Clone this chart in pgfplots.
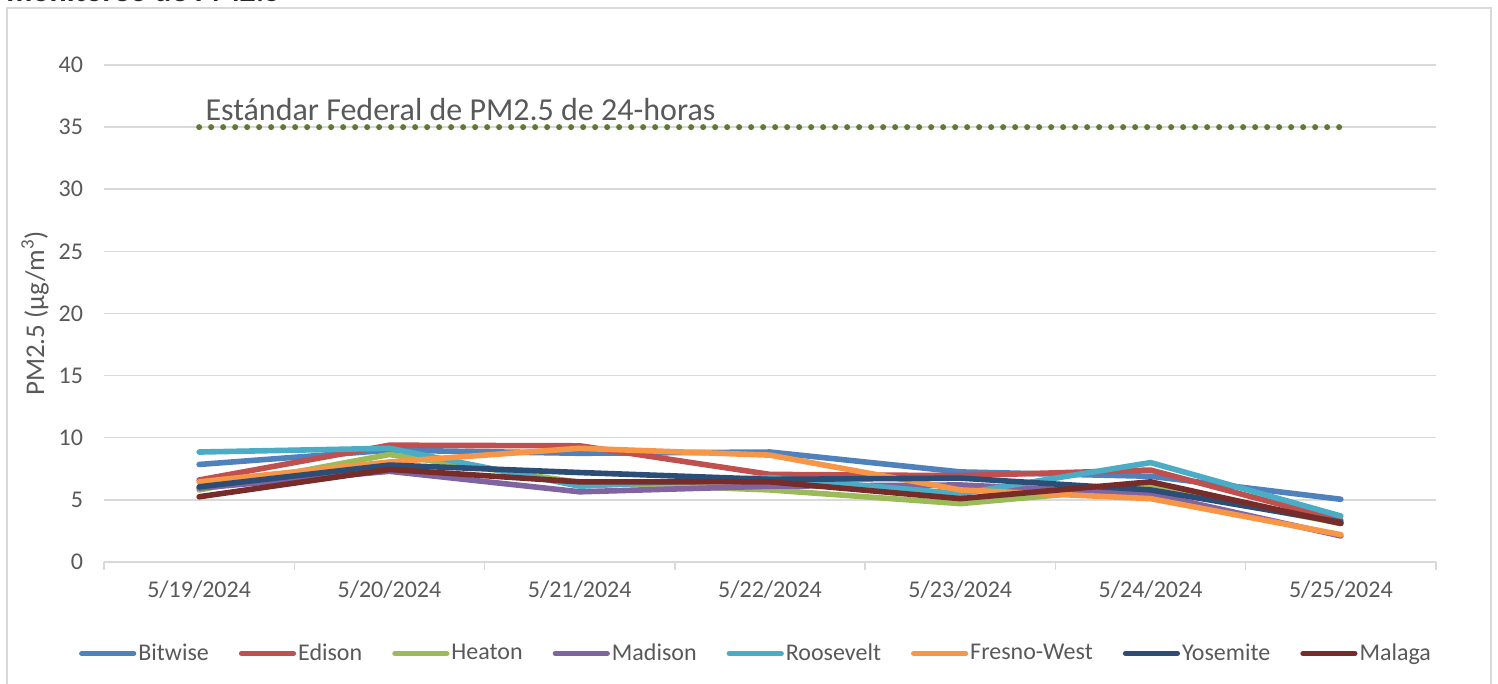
\documentclass[border=0pt]{standalone}
\usepackage{pgfplots}
\pgfplotsset{compat=1.18}
\usepackage{fontspec}
\setmainfont{Carlito}
\definecolor{cBit}{HTML}{4F81BD}
\definecolor{cEdi}{HTML}{C0504D}
\definecolor{cHea}{HTML}{9BBB59}
\definecolor{cMad}{HTML}{8064A2}
\definecolor{cRoo}{HTML}{4BACC6}
\definecolor{cFre}{HTML}{F79646}
\definecolor{cYos}{HTML}{2C4D75}
\definecolor{cMal}{HTML}{772C2A}
\definecolor{cStd}{HTML}{5E7A2E}
\definecolor{cGrid}{HTML}{D9D9D9}
\definecolor{cTxt}{HTML}{595959}
\begin{document}
\begin{tikzpicture}
\useasboundingbox (0,0) rectangle (749pt,342pt);
\draw[cGrid, line width=0.75pt] (3.5pt,-5pt) -- (3.5pt,338pt) -- (745.5pt,338pt) -- (745.5pt,-5pt);
\node[anchor=base west, inner sep=0pt, font=\fontsize{16}{19}\selectfont\bfseries, text=black!85] at (3pt,341.3pt) {monitoreo de PM2.5};
\begin{axis}[
  scale only axis, width=666pt, height=248.5pt,
  anchor=south west, at={(52pt,61pt)},
  xmin=-0.5, xmax=6.5, ymin=0, ymax=40,
  xtick={0,...,6},
  xticklabels={5/19/2024,5/20/2024,5/21/2024,5/22/2024,5/23/2024,5/24/2024,5/25/2024},
  minor xtick={-0.5,0.5,...,6.5},
  ytick={0,5,...,40},
  axis x line*=bottom, axis y line*=left,
  x axis line style={-, draw=cGrid, line width=0.75pt},
  y axis line style={draw=none},
  tick align=outside,
  major tick length=0pt, minor tick length=4pt,
  minor tick style={draw=cGrid, line width=0.75pt},
  ymajorgrids, grid style={draw=cGrid, line width=0.75pt},
  tick label style={font=\fontsize{12}{14}\selectfont, text=cTxt},
  /pgf/number format/assume math mode=true,
  xticklabel style={yshift=-6pt},
  yticklabel style={xshift=-7pt},
  ylabel={PM2.5 (µg/m\textsuperscript{3})},
  ylabel style={at={(axis description cs:-0.0518,0.5)}, anchor=center, font=\fontsize{13.5}{16}\selectfont, text=cTxt},
  clip=false,
  legend columns=8,
  legend style={at={(0.4895,-0.184)}, anchor=center, draw=none, fill=none,
    font=\fontsize{12}{14}\selectfont, text=cTxt,
    /tikz/every even column/.append style={column sep=14pt},
    nodes={inner sep=1pt}},
  legend image code/.code={\draw[#1, line width=2.6pt, line cap=round] (0pt,0pt) -- (26pt,0pt);},
  every axis plot/.append style={line width=2.8pt, line join=round, line cap=round, mark=none},
]
\addplot[cBit] coordinates {(0,7.85)(1,9.0)(2,8.75)(3,8.85)(4,7.25)(5,6.9)(6,5.05)};
\addlegendentry{Bitwise}
\addplot[cEdi] coordinates {(0,6.6)(1,9.4)(2,9.35)(3,7.05)(4,6.95)(5,7.4)(6,3.35)};
\addlegendentry{Edison}
\addplot[cHea] coordinates {(0,5.8)(1,8.65)(2,6.4)(3,5.8)(4,4.7)(5,6.05)(6,3.1)};
\addlegendentry{Heaton}
\addplot[cMad] coordinates {(0,5.95)(1,7.3)(2,5.65)(3,6.1)(4,6.2)(5,5.5)(6,2.1)};
\addlegendentry{Madison}
\addplot[cRoo] coordinates {(0,8.85)(1,9.15)(2,6.1)(3,6.8)(4,5.5)(5,8.0)(6,3.7)};
\addlegendentry{Roosevelt}
\addplot[cFre] coordinates {(0,6.45)(1,8.05)(2,9.15)(3,8.6)(4,5.8)(5,5.1)(6,2.2)};
\addlegendentry{Fresno-West}
\addplot[cYos] coordinates {(0,6.05)(1,7.8)(2,7.2)(3,6.65)(4,6.75)(5,5.8)(6,3.2)};
\addlegendentry{Yosemite}
\addplot[cMal] coordinates {(0,5.25)(1,7.45)(2,6.45)(3,6.45)(4,5.1)(5,6.45)(6,3.1)};
\addlegendentry{Malaga}
\addplot[cStd, line width=3pt, dash pattern=on 0pt off 6pt, line cap=round, forget plot] coordinates {(0,35)(1,35)(2,35)(3,35)(4,35)(5,35)(6,35)};
\node[anchor=base west, inner sep=0pt, font=\fontsize{16}{19}\selectfont, text=cTxt] at (axis cs:0,35) [xshift=3pt, yshift=3.5pt] {Estándar Federal de PM2.5 de 24-horas};
\end{axis}
\end{tikzpicture}
\end{document}
